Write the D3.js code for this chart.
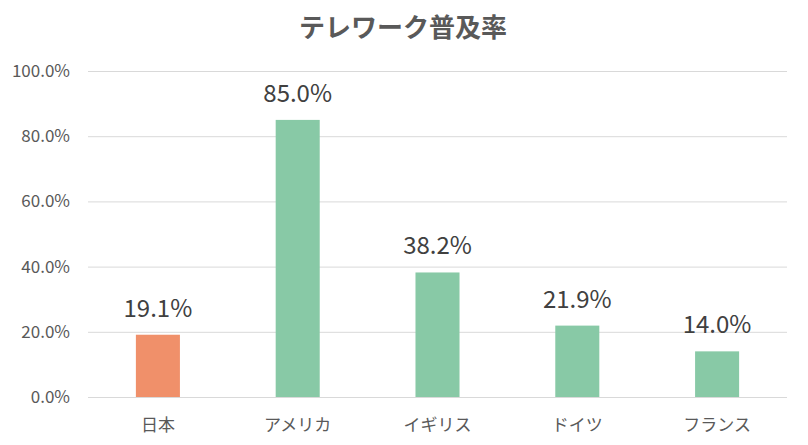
<!DOCTYPE html>
<html><head><meta charset="utf-8">
<script src="https://cdn.jsdelivr.net/npm/d3@7"></script>
<style>html,body{margin:0;padding:0;background:#fff;}svg{display:block;}</style>
</head><body>
<svg id="chart" width="808" height="445"></svg>
<script>
const title = "テレワーク普及率";
const categories = ["日本", "アメリカ", "イギリス", "ドイツ", "フランス"];
const values = [19.1, 85.0, 38.2, 21.9, 14.0];
const barColors = ["#F0906A", "#88C9A6", "#88C9A6", "#88C9A6", "#88C9A6"];
const yTicks = [0, 20, 40, 60, 80, 100];

const svg = d3.select("#chart");
const mLeft = 88, mRight = 787, mTop = 71, mBottom = 397;
const font = "'Noto Sans CJK JP','Noto Sans',sans-serif";

const x = d3.scaleBand().domain(categories).range([mLeft, mRight])
  .paddingInner(0.685).paddingOuter(0.3425);
const y = d3.scaleLinear().domain([0, 100]).range([mBottom, mTop]);

svg.append("text").attr("x", 403).attr("y", 37).attr("text-anchor", "middle")
  .attr("font-family", font).attr("font-size", 26).attr("font-weight", "bold")
  .attr("fill", "#595959").text(title);

const yAxis = svg.append("g").attr("transform", `translate(${mLeft},0)`)
  .call(d3.axisLeft(y).tickValues(yTicks).tickSize(-(mRight - mLeft)).tickFormat(d => d.toFixed(1) + "%"));
yAxis.select(".domain").remove();
yAxis.selectAll(".tick line").attr("stroke", "#D9D9D9").attr("stroke-width", 1);
yAxis.selectAll(".tick text").attr("x", -18).attr("font-family", font).attr("font-size", 17).attr("fill", "#595959");

svg.selectAll("rect.bar").data(categories).join("rect").attr("class", "bar")
  .attr("x", d => x(d)).attr("width", x.bandwidth())
  .attr("y", (d, i) => y(values[i])).attr("height", (d, i) => y(0) - y(values[i]))
  .attr("fill", (d, i) => barColors[i]);

svg.selectAll("text.val").data(categories).join("text").attr("class", "val")
  .attr("x", d => x(d) + x.bandwidth() / 2).attr("y", (d, i) => y(values[i]) - 18)
  .attr("text-anchor", "middle").attr("font-family", font).attr("font-size", 24)
  .attr("fill", "#404040").text((d, i) => values[i].toFixed(1) + "%");

const xAxis = svg.append("g").attr("transform", `translate(0,${mBottom})`)
  .call(d3.axisBottom(x).tickSize(0).tickPadding(0));
xAxis.select(".domain").remove();
xAxis.selectAll(".tick text").attr("y", 34).attr("dy", 0).attr("font-family", font)
  .attr("font-size", 17).attr("fill", "#595959");
</script>
</body></html>
